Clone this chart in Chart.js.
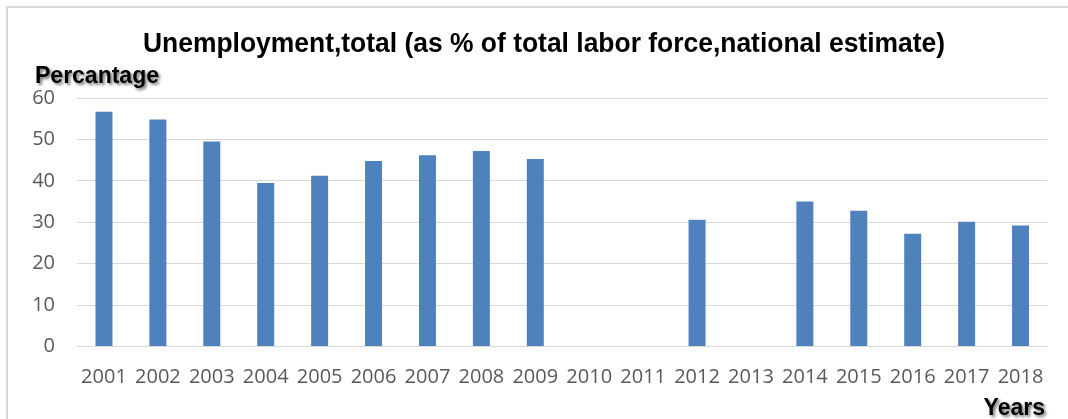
<!DOCTYPE html>
<html>
<head>
<meta charset="utf-8">
<script src="https://cdn.jsdelivr.net/npm/chart.js@4"></script>
<style>
    html, body { margin: 0; padding: 0; background: #fff; }
    #wrap { width: 1068px; height: 419px; position: relative; }
</style>
</head>
<body>
<div id="wrap"><canvas id="myChart" width="1068" height="419"></canvas></div>
<script>
// years on the x axis
const years = ['2001', '2002', '2003', '2004', '2005', '2006', '2007', '2008', '2009',
    '2010', '2011', '2012', '2013', '2014', '2015', '2016', '2017', '2018'];
// unemployment, % of labor force (no data for 2010, 2011, 2013)
const unemployment = [56.7, 54.8, 49.5, 39.5, 41.2, 44.8, 46.2, 47.2, 45.3,
    null, null, 30.6, null, 35.0, 32.8, 27.2, 30.1, 29.2];
const yTicks = [0, 10, 20, 30, 40, 50, 60];

const chartTitle = 'Unemployment,total (as % of total labor force,national estimate)';
const yTitle = 'Percantage';
const xTitle = 'Years';

// draws the frame, title and the two axis captions
const labelsPlugin = {
    id: 'labels',
    beforeDraw(chart) {
        const ctx = chart.ctx;
        ctx.save();
        ctx.strokeStyle = '#d9d9d9';
        ctx.lineWidth = 2;
        ctx.strokeRect(7, 7, 1200, 600);
        ctx.restore();
    },
    afterDraw(chart) {
        const ctx = chart.ctx;
        ctx.save();
        ctx.fillStyle = '#000';
        ctx.textBaseline = 'alphabetic';

        ctx.font = 'bold 27px "Liberation Sans", Arial, sans-serif';
        ctx.textAlign = 'center';
        ctx.fillText(chartTitle, 544, 52, 802);

        ctx.shadowColor = 'rgba(0, 0, 0, 0.55)';
        ctx.shadowOffsetX = 2;
        ctx.shadowOffsetY = 2;
        ctx.shadowBlur = 3;
        ctx.font = 'bold 23px "Liberation Sans", Arial, sans-serif';
        ctx.textAlign = 'left';
        ctx.fillText(yTitle, 35, 83);
        ctx.textAlign = 'right';
        ctx.fillText(xTitle, 1045, 415);
        ctx.restore();
    }
};

const ctx = document.getElementById('myChart').getContext('2d');
const myChart = new Chart(ctx, {
    type: 'bar',
    data: {
        labels: years,
        datasets: [{
            label: 'Unemployment',
            data: unemployment,
            backgroundColor: '#4f81bd',
            borderWidth: 0,
            categoryPercentage: 1,
            barPercentage: 0.315
        }]
    },
    options: {
        responsive: false,
        animation: false,
        layout: { padding: { left: 0, right: 20.5, top: 98, bottom: 0 } },
        plugins: {
            legend: { display: false },
            tooltip: { enabled: false }
        },
        scales: {
            x: {
                grid: { display: false, drawTicks: false },
                border: { color: '#d9d9d9', width: 1 },
                ticks: {
                    color: '#595959',
                    font: { family: '"Open Sans"', size: 20 },
                    padding: 19,
                    autoSkip: false,
                    maxRotation: 0
                },
                afterFit(scale) { scale.height = 72.5; }
            },
            y: {
                min: 0,
                max: 60,
                grid: { color: '#d9d9d9', drawTicks: false },
                border: { display: false },
                afterBuildTicks(scale) { scale.ticks = yTicks.map(v => ({ value: v })); },
                ticks: {
                    color: '#595959',
                    font: { family: '"Open Sans"', size: 20 },
                    padding: 22
                },
                afterFit(scale) { scale.width = 77; }
            }
        }
    },
    plugins: [labelsPlugin]
});
</script>
</body>
</html>
